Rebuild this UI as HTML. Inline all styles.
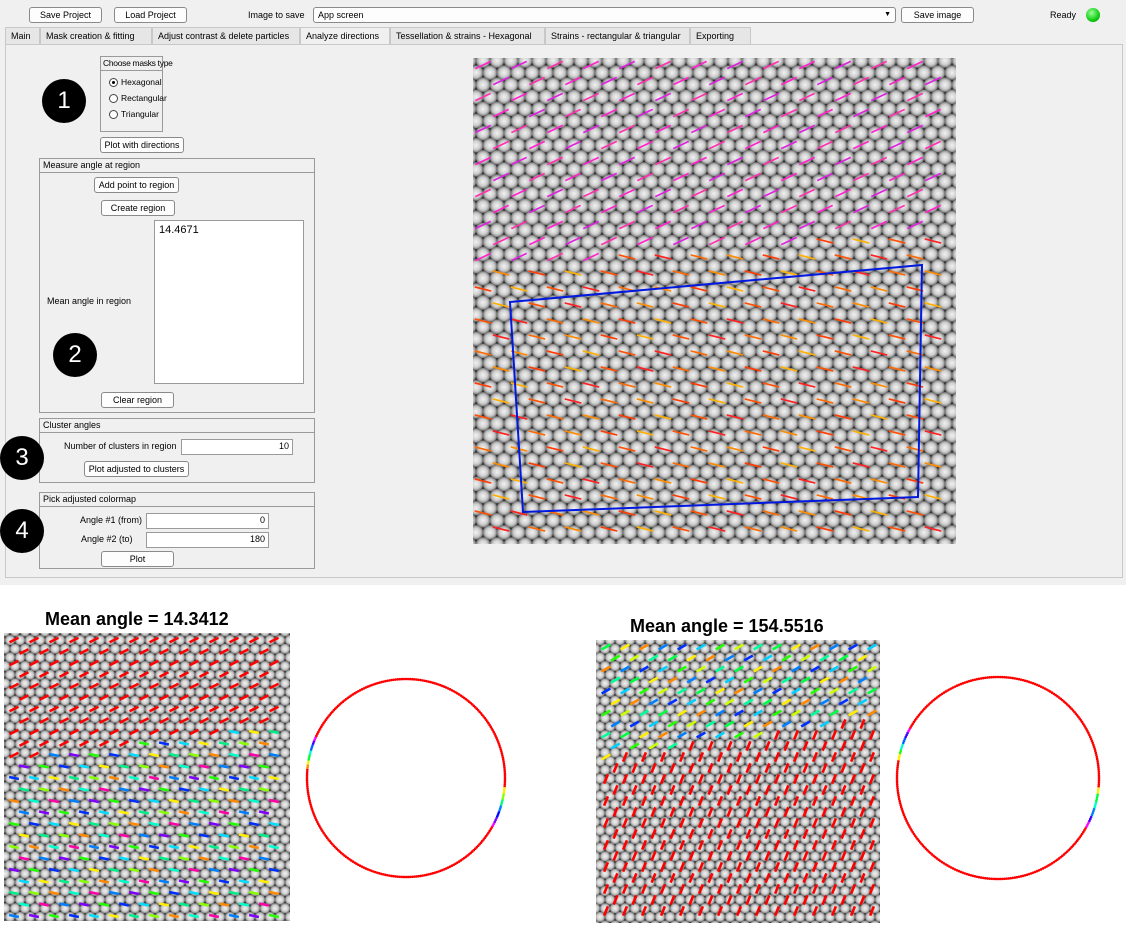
<!DOCTYPE html>
<html><head><meta charset="utf-8">
<style>
body{margin:0;width:1126px;height:927px;background:#fff;position:relative;overflow:hidden;font-family:"Liberation Sans",sans-serif;font-size:9px;color:#000}
.abs{position:absolute}
.app{position:absolute;left:0;top:0;width:1126px;height:585px;background:#f0f0f0}
.btn{position:absolute;border:1px solid #8a8a8a;border-radius:3px;background:#fdfdfd;text-align:center;line-height:14px;font-size:9px;box-sizing:border-box;white-space:nowrap}
.grp{position:absolute;border:1px solid #9a9a9a;box-sizing:border-box}
.grp .t{border-bottom:1px solid #9a9a9a;height:13px;line-height:13px;padding-left:3px;white-space:nowrap}
.inp{position:absolute;background:#fff;border:1px solid #9a9a9a;box-sizing:border-box;text-align:right;padding-right:3px;line-height:13px}
.tab{position:absolute;top:27px;height:17px;line-height:17px;border:1px solid #c8c8c8;border-bottom:none;background:#e6e6e6;box-sizing:border-box;padding-left:5px;font-size:9px;white-space:nowrap}
.num{position:absolute;width:44px;height:44px;border-radius:50%;background:#000;color:#fff;font-size:24px;text-align:center;line-height:44px}
.radio{display:inline-block;width:9px;height:9px;border:1px solid #444;border-radius:50%;vertical-align:-2px;margin-right:3px;box-sizing:border-box;background:#fff;position:relative}
.title{position:absolute;font-weight:bold;font-size:18px;white-space:nowrap}
</style></head><body>
<div class="app">
  <div class="btn" style="left:29px;top:7px;width:73px;height:16px">Save Project</div>
  <div class="btn" style="left:114px;top:7px;width:73px;height:16px">Load Project</div>
  <div class="abs" style="left:248px;top:10px">Image to save</div>
  <div class="btn" style="left:313px;top:7px;width:583px;height:16px;text-align:left;padding-left:4px">App screen<span style="position:absolute;right:4px;top:0;font-size:7px">▼</span></div>
  <div class="btn" style="left:901px;top:7px;width:73px;height:16px">Save image</div>
  <div class="abs" style="left:1050px;top:10px">Ready</div>
  <div class="abs" style="left:1086px;top:8px;width:14px;height:14px;border-radius:50%;background:radial-gradient(circle at 40% 35%,#9f9,#1c1 60%,#080);"></div>

  <div class="tab" style="left:5px;width:35px">Main</div>
  <div class="tab" style="left:40px;width:112px">Mask creation &amp; fitting</div>
  <div class="tab" style="left:152px;width:148px">Adjust contrast &amp; delete particles</div>
  <div class="tab" style="left:300px;width:90px;background:#f0f0f0;height:18px">Analyze directions</div>
  <div class="tab" style="left:390px;width:155px">Tessellation &amp; strains - Hexagonal</div>
  <div class="tab" style="left:545px;width:145px">Strains - rectangular &amp; triangular</div>
  <div class="tab" style="left:690px;width:61px">Exporting</div>
  <div class="abs" style="left:5px;top:44px;width:1118px;height:534px;border:1px solid #c8c8c8;box-sizing:border-box"></div>

  <div class="grp" style="left:100px;top:56px;width:63px;height:76px;font-size:8.5px">
    <div class="t" style="letter-spacing:-0.3px;padding-left:2px">Choose masks type</div>
    <div style="padding:3px 0 0 8px;line-height:16px;white-space:nowrap">
      <div><span class="radio"><span style="position:absolute;left:2px;top:2px;width:3px;height:3px;border-radius:50%;background:#000"></span></span>Hexagonal</div>
      <div><span class="radio"></span>Rectangular</div>
      <div><span class="radio"></span>Triangular</div>
    </div>
  </div>
  <div class="btn" style="left:100px;top:137px;width:84px;height:16px">Plot with directions</div>

  <div class="grp" style="left:39px;top:158px;width:276px;height:255px"><div class="t">Measure angle at region</div></div>
  <div class="btn" style="left:94px;top:177px;width:85px;height:16px">Add point to region</div>
  <div class="btn" style="left:101px;top:200px;width:74px;height:16px">Create region</div>
  <div class="abs" style="left:47px;top:296px">Mean angle in region</div>
  <div class="abs" style="left:154px;top:220px;width:150px;height:164px;background:#fff;border:1px solid #9a9a9a;box-sizing:border-box;font-size:11px;padding:3px 4px">14.4671</div>
  <div class="btn" style="left:101px;top:392px;width:73px;height:16px">Clear region</div>

  <div class="grp" style="left:39px;top:418px;width:276px;height:65px"><div class="t">Cluster angles</div></div>
  <div class="abs" style="left:64px;top:441px">Number of clusters in region</div>
  <div class="inp" style="left:181px;top:439px;width:112px;height:16px">10</div>
  <div class="btn" style="left:84px;top:461px;width:105px;height:16px">Plot adjusted to clusters</div>

  <div class="grp" style="left:39px;top:492px;width:276px;height:77px"><div class="t">Pick adjusted colormap</div></div>
  <div class="abs" style="left:80px;top:515px">Angle #1 (from)</div>
  <div class="inp" style="left:146px;top:513px;width:123px;height:16px">0</div>
  <div class="abs" style="left:81px;top:534px">Angle #2 (to)</div>
  <div class="inp" style="left:146px;top:532px;width:123px;height:16px">180</div>
  <div class="btn" style="left:101px;top:551px;width:73px;height:16px">Plot</div>

  <div class="num" style="left:42px;top:79px">1</div>
  <div class="num" style="left:53px;top:333px">2</div>
  <div class="num" style="left:0px;top:436px">3</div>
  <div class="num" style="left:0px;top:509px">4</div>
</div>

<div class="title" style="left:45px;top:609px">Mean angle = 14.3412</div>
<div class="title" style="left:630px;top:616px">Mean angle = 154.5516</div>

<svg class="abs" style="left:0;top:0" width="1126" height="927" id="svg">
<defs>
<radialGradient id="pg"><stop offset="0" stop-color="#f2f2f2"/><stop offset="0.6" stop-color="#cdcdcd"/><stop offset="0.9" stop-color="#8c8c8c"/><stop offset="1" stop-color="#5a5a5a"/></radialGradient>
<pattern id="pat" width="14" height="24.2" patternUnits="userSpaceOnUse">
<rect width="14" height="24.2" fill="#2e2e2e"/>
<circle cx="0" cy="0" r="7.3" fill="url(#pg)"/><circle cx="14" cy="0" r="7.3" fill="url(#pg)"/>
<circle cx="0" cy="24.2" r="7.3" fill="url(#pg)"/><circle cx="14" cy="24.2" r="7.3" fill="url(#pg)"/>
<circle cx="7" cy="12.1" r="7.3" fill="url(#pg)"/>
</pattern>
<pattern id="pat2" width="10" height="17.3" patternUnits="userSpaceOnUse">
<rect width="10" height="17.3" fill="#2e2e2e"/>
<circle cx="0" cy="0" r="5.2" fill="url(#pg)"/><circle cx="10" cy="0" r="5.2" fill="url(#pg)"/>
<circle cx="0" cy="17.3" r="5.2" fill="url(#pg)"/><circle cx="10" cy="17.3" r="5.2" fill="url(#pg)"/>
<circle cx="5" cy="8.65" r="5.2" fill="url(#pg)"/>
</pattern>
</defs>
<rect x="473" y="58" width="483" height="486" fill="url(#pat)"/>
<rect x="4" y="633" width="286" height="288" fill="url(#pat2)"/>
<rect x="596" y="640" width="284" height="283" fill="url(#pat2)"/>
<g id="marks"></g>
<polygon points="510,302 922,265 918,497 523,512" fill="none" stroke="#0018e0" stroke-width="2"/>
</svg>
<script>
// Angle (deg, screen convention) and color per region
const mainTopAngle = -25, mainTopColors = ["#ff22cc","#e020e0","#ff30b0"];
const mainBotAngle = 14, mainBotColors = ["#ff6a00","#ff8c00","#ff3c00","#ffb000","#ff5000","#ff2020"];
const leftTopAngle = -27, leftBotAngle = 12;
const leftBotColors = ["#00ee88","#00ddff","#22ff00","#0080ff","#00ffcc","#88ff00","#ffee00","#0030ff","#8000ff","#ff00aa","#ff8800"];
const rightTopAngle = -30, rightBotAngle = -68;
const rightTopColors = ["#00ff40","#ccff00","#00d0ff","#0080ff","#ffee00","#00ff99","#22ff00","#0030ff","#ff8800"];
// circle: colored arcs [start deg, end deg, colors], clockwise from +x on screen
const leftArcs = [[185,205,["#ff8800","#ffee00","#00ff40","#00ffcc","#0060ff","#4000ff","#ff00ff"]],[5,30,["#ffee00","#88ff00","#00ff80","#0080ff","#0000ff","#8000ff","#ff00ff"]]];
const rightArcs = [[190,210,["#ffee00","#22ff00","#00ffcc","#0060ff","#4000ff","#ff00ff"]],[5,30,["#ffee00","#00ff40","#00ffcc","#0080ff","#4000ff","#ff00ff"]]];

const marks=document.getElementById('marks');const NS="http://www.w3.org/2000/svg";
function seg(x,y,ang,len,col,w){const r=ang*Math.PI/180,ux=Math.cos(r)*len/2,uy=Math.sin(r)*len/2;
 const l=document.createElementNS(NS,'line');l.setAttribute('x1',x-ux);l.setAttribute('y1',y-uy);l.setAttribute('x2',x+ux);l.setAttribute('y2',y+uy);
 l.setAttribute('stroke',col);l.setAttribute('stroke-width',w);
 
 
 marks.appendChild(l);}
function field(x0,y0,w,h,sx,sy,len,wd,fn){let i=0;for(let r=0;;r++){const y=y0+7+r*sy;if(y>y0+h-5)break;
 for(let c=0;;c++){const x=x0+10+c*sx+(r%2)*sx/2;if(x>x0+w-8)break;const o=fn(x,y,i++);if(o)seg(x,y,o[0],len,o[1],wd);}}}
field(473,58,483,486,36,16,17,1.6,(x,y,i)=>{const b=268-(x-473)*0.08;
 return y<b?[mainTopAngle,mainTopColors[i%3]]:[mainBotAngle,mainBotColors[(i*7)%6]];});
field(4,633,286,288,20,11.5,10,2.6,(x,y,i)=>{const b=760-(x-4)*0.13;
 return y<b?[leftTopAngle,"#ff0000"]:[leftBotAngle,leftBotColors[(i*5)%leftBotColors.length]];});
field(596,640,284,283,19,11,10,2.6,(x,y,i)=>{const b=760-(x-596)*0.15;
 return y<b?[rightTopAngle,rightTopColors[(i*4)%rightTopColors.length]]:[rightBotAngle,"#ff0000"];});
function circ(cx,cy,R,arcs,name){const n=300;for(let k=0;k<n;k++){const a=k*360/n;let col="#ff0000";
 arcs.forEach(([s,e,cs])=>{if(a>=s&&a<e)col=cs[Math.floor((a-s)/(e-s)*cs.length)];});
 const c=document.createElementNS(NS,'circle');c.setAttribute('cx',cx+R*Math.cos(a*Math.PI/180));c.setAttribute('cy',cy+R*Math.sin(a*Math.PI/180));
 c.setAttribute('r',1.3);c.setAttribute('fill',col);
 
 
 marks.appendChild(c);}}
circ(406,778,99,leftArcs,'left-angle-circle-point');
circ(998,778,101,rightArcs,'right-angle-circle-point');
</script>
</body></html>
